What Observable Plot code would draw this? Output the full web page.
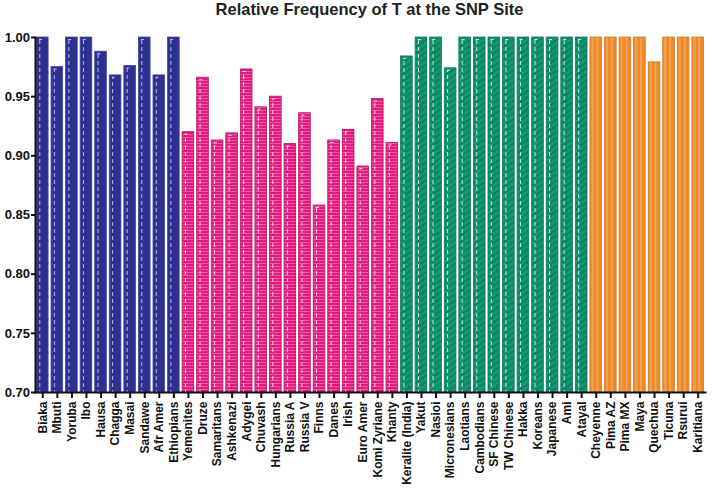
<!DOCTYPE html>
<html>
<head>
<meta charset="utf-8">
<script src="https://cdn.jsdelivr.net/npm/d3@7"></script>
<script src="https://cdn.jsdelivr.net/npm/@observablehq/plot@0.6"></script>
<style>
  body { margin: 0; background: #fff; }
  #title { height: 26px; line-height: 27px; box-sizing: border-box; padding-left: 35px; padding-right: 8px; text-align: center; font: bold 16.5px "Liberation Sans", Arial, sans-serif; color: #222; }
</style>
</head>
<body>
<div id="title">Relative Frequency of T at the SNP Site</div>
<div id="chart"></div>
<script>
const africaNames = ["Biaka", "Mbuti", "Yoruba", "Ibo", "Hausa", "Chagga", "Masai", "Sandawe", "Afr Amer", "Ethiopians"];
const africaValues = [1.0, 0.975, 1.0, 1.0, 0.988, 0.968, 0.976, 1.0, 0.968, 1.0];
const europeNames = ["Yemenites", "Druze", "Samaritans", "Ashkenazi", "Adygei", "Chuvash", "Hungarians", "Russia A", "Russia V", "Finns", "Danes", "Irish", "Euro Amer", "Komi Zyriane", "Khanty"];
const europeValues = [0.920, 0.966, 0.913, 0.919, 0.973, 0.941, 0.950, 0.910, 0.936, 0.858, 0.913, 0.922, 0.891, 0.948, 0.911];
const asiaNames = ["Keralite (India)", "Yakut", "Nasioi", "Micronesians", "Laotians", "Cambodians", "SF Chinese", "TW Chinese", "Hakka", "Koreans", "Japanese", "Ami", "Atayal"];
const asiaValues = [0.984, 1.0, 1.0, 0.974, 1.0, 1.0, 1.0, 1.0, 1.0, 1.0, 1.0, 1.0, 1.0];
const americasNames = ["Cheyenne", "Pima AZ", "Pima MX", "Maya", "Quechua", "Ticuna", "Rsurui", "Karitiana"];
const americasValues = [1.0, 1.0, 1.0, 1.0, 0.979, 1.0, 1.0, 1.0];
const yTicks = [0.70, 0.75, 0.80, 0.85, 0.90, 0.95, 1.00];

const toRows = (names, values) => names.map((name, i) => ({name, value: values[i]}));
const africa = toRows(africaNames, africaValues);
const europe = toRows(europeNames, europeValues);
const asia = toRows(asiaNames, asiaValues);
const americas = toRows(americasNames, americasValues);
const allNames = [...africaNames, ...europeNames, ...asiaNames, ...americasNames];

const base = 0.7;
const innerLines = (rows, stroke) => [
  Plot.ruleX(rows, {x: "name", y1: base, y2: "value", dx: -3, dy: 2, stroke, strokeWidth: 1, strokeDasharray: "4,3"}),
  Plot.tickY(rows, {x: "name", y: "value", dy: 2, insetLeft: 2.5, insetRight: 6, stroke, strokeWidth: 1})
];

const chart = Plot.plot({
  width: 712,
  height: 464,
  marginTop: 11,
  marginBottom: 98,
  marginLeft: 35,
  marginRight: 7,
  style: {fontFamily: "'Liberation Sans', Arial, sans-serif", fontWeight: "bold", fontSize: "13px", color: "#111"},
  x: {domain: allNames, paddingInner: 0.2, paddingOuter: 0.1, round: false, label: null},
  y: {domain: [0.7, 1.0], label: null},
  marks: [
    Plot.barY(africa, {x: "name", y1: base, y2: "value", fill: "#2e3192", stroke: "#45499f", strokeWidth: 0.8}),
    Plot.barY(europe, {x: "name", y1: base, y2: "value", fill: "url(#pinkPat)", stroke: "#b0165f", strokeWidth: 0.8}),
    Plot.barY(asia, {x: "name", y1: base, y2: "value", fill: "url(#greenPat)", stroke: "#0c7a5a", strokeWidth: 0.8}),
    Plot.barY(americas, {x: "name", y1: base, y2: "value", fill: "url(#orangePat)", stroke: "#d07a2a", strokeWidth: 0.8}),
    ...innerLines(africa, "#b5b8ec"),
    ...innerLines(europe, "#fbd0e6"),
    ...innerLines(asia, "#bfeedd"),
    Plot.axisY({ticks: yTicks, tickFormat: d3.format(".2f"), tickSize: 4, tickPadding: 1.5, strokeWidth: 2, fontSize: 13, label: null}),
    Plot.axisX({tickSize: 6, tickPadding: 3, tickRotate: -90, strokeWidth: 2, fontSize: 12, label: null}),
    Plot.frame({anchor: "left", strokeWidth: 2, stroke: "#111"}),
    Plot.frame({anchor: "bottom", strokeWidth: 2, stroke: "#111"})
  ]
});

// Fill patterns referenced by the bar marks
const svg = d3.select(chart);
const defs = svg.insert("defs", ":first-child");
const pink = defs.append("pattern").attr("id", "pinkPat").attr("patternUnits", "userSpaceOnUse").attr("width", 6).attr("height", 3);
pink.append("rect").attr("width", 6).attr("height", 3).attr("fill", "#e2197f");
pink.append("rect").attr("width", 6).attr("height", 1).attr("fill", "#ee5aa4");
const green = defs.append("pattern").attr("id", "greenPat").attr("patternUnits", "userSpaceOnUse").attr("width", 5).attr("height", 5).attr("patternTransform", "rotate(-35)");
green.append("rect").attr("width", 5).attr("height", 5).attr("fill", "#13976f");
green.append("rect").attr("width", 5).attr("height", 1.6).attr("fill", "#0b7d5b");
const orange = defs.append("pattern").attr("id", "orangePat").attr("patternUnits", "userSpaceOnUse").attr("width", 4.85).attr("height", 10);
orange.append("rect").attr("width", 4.85).attr("height", 10).attr("fill", "#ee8a2a");
orange.append("rect").attr("width", 1.6).attr("height", 10).attr("fill", "#f5aa5c");

document.getElementById("chart").appendChild(chart);
</script>
</body>
</html>
